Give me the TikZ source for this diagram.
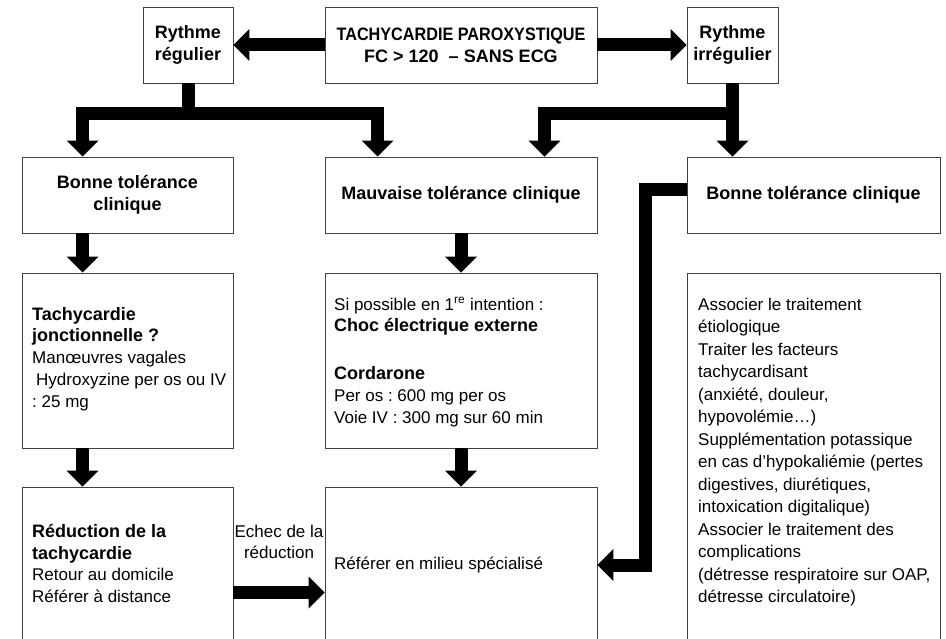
\documentclass[tikz,border=0pt]{standalone}
\usepackage{fontspec}
\setmainfont{Liberation Sans}
\newfontfamily\condfont{Liberation Sans}[FakeStretch=0.9]
\newcommand\hb[1]{{\fontsize{18}{21.7}\selectfont\bfseries #1}}
\usetikzlibrary{arrows.meta,calc}
\frenchspacing
\begin{document}
\begin{tikzpicture}[x=1pt,y=-1pt,
  every node/.style={font=\fontsize{17}{21.7}\selectfont},
  box/.style={draw=black!75, line width=0.9pt, inner sep=0pt, align=center,
    font=\fontsize{18}{21.7}\selectfont\bfseries},
  txt/.style={inner sep=0pt, align=left},
  fat/.style={line width=13pt, line join=miter, draw=black,
    -{Triangle[width=32pt,length=16pt,line width=0pt]}},
]
\useasboundingbox (0,0) rectangle (946,639);
\clip (0,0) rectangle (946,639);

% row 1
\node[box, minimum width=90pt, minimum height=76pt] (reg) at (188,45) {Rythme\\régulier};
\node[box, minimum width=272pt, minimum height=76pt] (tc) at (461,45) {{\condfont TACHYCARDIE PAROXYSTIQUE}\\FC > 120\ \ – SANS ECG};
\node[box, minimum width=91pt, minimum height=76pt] (irr) at (732.5,45) {Rythme\\irrégulier};
% row 2
\node[box, minimum width=211pt, minimum height=76pt] (bt1) at (127.5,195) {Bonne tolérance\\clinique};
\node[box, minimum width=272pt, minimum height=76pt] (mt) at (461,195) {Mauvaise tolérance clinique};
\node[box, minimum width=253pt, minimum height=76pt] (bt2) at (813.5,195) {Bonne tolérance clinique};
% row 3
\node[box, minimum width=211pt, minimum height=175pt] (tj) at (127.5,360.5) {};
\node[box, minimum width=272pt, minimum height=175pt] (choc) at (461,360.5) {};
\node[box, minimum width=253pt, minimum height=387pt] (assoc) at (813.5,466.5) {};
% row 4
\node[box, minimum width=211pt, minimum height=173pt] (red) at (127.5,573.5) {};
\node[box, minimum width=272pt, minimum height=173pt] (ref) at (461,573.5) {};

% texts
\node[txt, anchor=north west] (tjt) at (32,307) {\rule{0pt}{13pt}\hb{Tachycardie}\\\hb{jonctionnelle ?}\\Manœuvres vagales\\\hspace*{4pt}Hydroxyzine per os ou IV\\: 25 mg};
\node[txt, anchor=north west] (choct) at (334,297) {\rule{0pt}{13pt}Si possible en 1\textsuperscript{re} intention :\\\hb{Choc électrique externe}\\[26pt]\hb{Cordarone}\\Per os : 600 mg per os\\Voie IV : 300 mg sur 60 min};
\node[txt, anchor=north west, font=\fontsize{17}{22.5}\selectfont] (assoct) at (698,297) {\rule{0pt}{13pt}Associer le traitement\\étiologique\\Traiter les facteurs\\tachycardisant\\(anxiété, douleur,\\hypovolémie…)\\Supplémentation potassique\\en cas d’hypokaliémie (pertes\\digestives, diurétiques,\\intoxication digitalique)\\Associer le traitement des\\complications\\(détresse respiratoire sur OAP,\\détresse circulatoire)};
\node[txt, anchor=north west] (redt) at (32,524) {\rule{0pt}{13pt}\hb{Réduction de la}\\\hb{tachycardie}\\Retour au domicile\\Référer à distance};
\node[txt, anchor=north, align=center] (echec) at (279,524) {\rule{0pt}{13pt}Echec de la\\réduction};
\node[txt, anchor=base west] (reft) at (334,569) {Référer en milieu spécialisé};

% connectors
\draw[fat] (tc.west) -- (reg.east);
\draw[fat] (tc.east) -- (irr.west);

\coordinate (jl) at ($(reg.south)+(0,30)$);
\coordinate (bt1in) at ($(bt1.north west)+(61,0)$);
\coordinate (mtinl) at ($(mt.north west)+(53,0)$);
\draw[fat] (reg.south) -- (jl) -| (bt1in);
\draw[fat] (jl) -| (mtinl);

\coordinate (jr) at ($(irr.south)+(0,30)$);
\coordinate (mtinr) at ($(mt.north east)+(-53,0)$);
\draw[fat] (irr.south) -- (irr.south |- bt2.north);
\draw[fat] (jr) -| (mtinr);

\draw[fat] ($(bt1.south west)+(61,0)$) -- ($(tj.north west)+(61,0)$);
\draw[fat] ($(tj.south west)+(61,0)$) -- ($(red.north west)+(61,0)$);
\draw[fat] (mt.south) -- (choc.north);
\draw[fat] (choc.south) -- (ref.north);

\draw[fat] ($(red.north east)+(0,106)$) -- ($(ref.north west)+(0,106)$);

\coordinate (k1) at ($(bt2.west)+(-41,-5)$);
\coordinate (k2) at ($(k1)+(0,375)$);
\draw[fat] ($(bt2.west)+(0,-5)$) -- (k1) -- (k2) -- (ref.east |- k2);
\end{tikzpicture}
\end{document}
